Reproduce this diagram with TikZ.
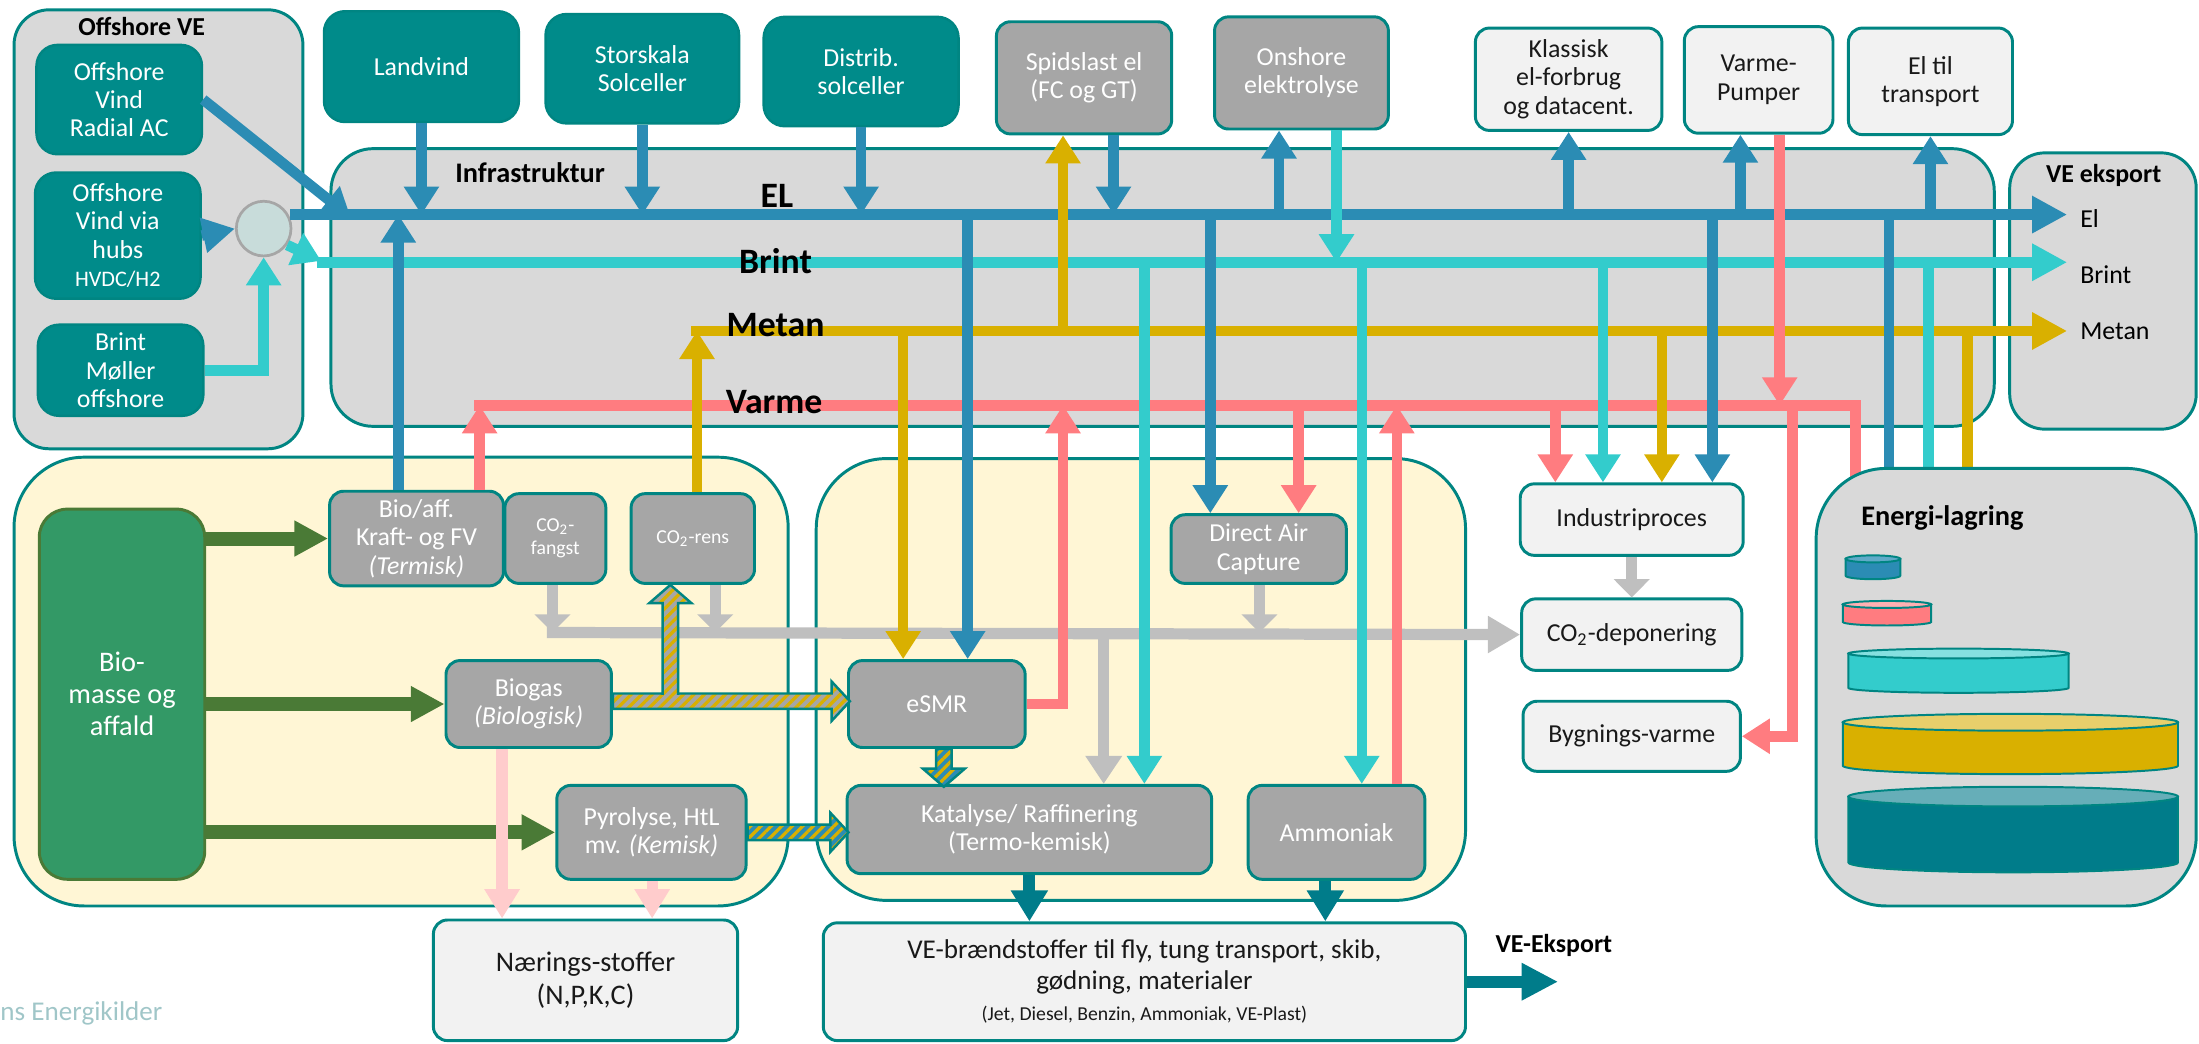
\documentclass[tikz,border=0pt]{standalone}
\usepackage{fontspec}
\setmainfont{Carlito}
\usetikzlibrary{arrows.meta,patterns.meta}

\definecolor{veteal}{RGB}{0,139,138}
\definecolor{rim}{RGB}{0,133,130}
\definecolor{procgray}{RGB}{166,166,166}
\definecolor{lightbox}{RGB}{242,242,242}
\definecolor{infragray}{RGB}{217,217,217}
\definecolor{cream}{RGB}{255,246,213}
\definecolor{elblue}{RGB}{43,140,180}
\definecolor{elbluelight}{RGB}{96,170,200}
\definecolor{brintcyan}{RGB}{51,204,204}
\definecolor{brintlight}{RGB}{133,224,224}
\definecolor{metangold}{RGB}{217,176,0}
\definecolor{metanlight}{RGB}{232,207,107}
\definecolor{varmepink}{RGB}{255,124,128}
\definecolor{varmelight}{RGB}{255,176,178}
\definecolor{co2gray}{RGB}{191,191,191}
\definecolor{biogreen}{RGB}{74,122,54}
\definecolor{biofill}{RGB}{51,153,102}
\definecolor{palepink}{RGB}{255,204,204}
\definecolor{darkteal}{RGB}{0,124,138}
\definecolor{teallight}{RGB}{102,174,184}
\definecolor{hubfill}{RGB}{200,220,218}
\definecolor{hubrim}{RGB}{166,166,166}
\definecolor{faded}{RGB}{160,198,200}

\tikzset{
  boxfont/.style={font=\fontsize{10.5}{11.5}\selectfont},
  smallfont/.style={font=\fontsize{8}{9.5}\selectfont},
  titlefont/.style={font=\bfseries\fontsize{10.5}{12}\selectfont},
  linefont/.style={font=\bfseries\fontsize{14.5}{16}\selectfont},
  srcbox/.style={draw=rim, line width=1pt, fill=veteal, text=white, rounded corners=0.3cm, align=center, boxfont},
  procbox/.style={draw=rim, line width=1.2pt, fill=procgray, text=white, rounded corners=0.2cm, align=center, boxfont},
  endbox/.style={draw=rim, line width=1.2pt, fill=lightbox, text=black!90, rounded corners=0.2cm, align=center, boxfont},
  panel/.style={draw=rim, line width=1.2pt, fill=infragray},
  bus/.style={line width=0.15cm},
  flow/.style={line width=0.15cm, -{Triangle[length=0.4cm,width=0.48cm]}},
  exportflow/.style={line width=0.15cm, -{Triangle[length=0.5cm,width=0.5cm]}},
  co2flow/.style={co2gray, line width=0.16cm, -{Triangle[length=0.26cm,width=0.5cm]}},
  hatchgold/.style={preaction={fill=procgray}, pattern={Lines[angle=45,distance=3pt,line width=1.3pt]}, pattern color=metangold},
  hatchblue/.style={preaction={fill=elblue}, pattern={Lines[angle=45,distance=3pt,line width=1.3pt]}, pattern color=metangold},
  tank/.style={draw=rim, line width=0.8pt},
}

\begin{document}
\begin{tikzpicture}[x=0.02cm,y=-0.02cm]
\useasboundingbox (0,0) rectangle (1568,744);

% panels
\draw[panel, rounded corners=0.6cm] (236,106) rectangle (1422,304);
\draw[panel, rounded corners=0.5cm] (1433,109) rectangle (1566,306);
\draw[panel, rounded corners=0.5cm] (10,7) rectangle (216,320);
\draw[panel, fill=cream, rounded corners=1cm] (10,326) rectangle (562,646);
\draw[panel, fill=cream, rounded corners=1cm] (582,327) rectangle (1045,642);

\node[titlefont, anchor=base] (offtitle) at (101,25) {Offshore VE};
\node[titlefont, font=\bfseries\fontsize{11.5}{13}\selectfont, anchor=base] (infratitle) at (378,130) {Infrastruktur};
\node[titlefont, anchor=base] (exptitle) at (1500,130) {VE eksport};

% offshore
\node[srcbox, minimum width=2.36cm, minimum height=1.56cm] (radial) at (85,71) {Offshore\\Vind\\Radial AC};
\node[srcbox, minimum width=2.36cm, minimum height=1.80cm] (hubs) at (84,168) {Offshore\\Vind via\\hubs\\{\fontsize{9}{11}\selectfont HVDC/H2}};
\node[srcbox, minimum width=2.36cm, minimum height=1.28cm] (moller) at (86,264) {Brint\\Møller\\offshore};
\node[circle, draw=hubrim, fill=hubfill, line width=1.1pt, minimum size=0.78cm, inner sep=0pt] (hub) at (188,163) {};

% top row
\node[srcbox, minimum width=2.78cm, minimum height=1.58cm] (landvind) at (300.5,47.5) {Landvind};
\node[srcbox, minimum width=2.76cm, minimum height=1.56cm] (storskala) at (458,49) {Storskala\\Solceller};
\node[srcbox, minimum width=2.78cm, minimum height=1.56cm] (distrib) at (614,51) {Distrib.\\solceller};
\node[procbox, minimum width=2.50cm, minimum height=1.60cm] (spids) at (773,55.5) {Spidslast el\\(FC og GT)};
\node[procbox, minimum width=2.48cm, minimum height=1.60cm] (onshore) at (928,52) {Onshore\\elektrolyse};
\node[endbox, minimum width=2.66cm, minimum height=1.46cm] (klassisk) at (1118.5,56.5) {Klassisk\\el-forbrug\\og datacent.};
\node[endbox, minimum width=2.12cm, minimum height=1.52cm] (vp) at (1254,57) {Varme-\\Pumper};
\node[endbox, minimum width=2.34cm, minimum height=1.52cm] (eltrans) at (1376.5,58) {El til\\transport};

% bio side
\node[draw=biogreen, line width=1.2pt, fill=biofill, text=white, rounded corners=0.4cm, align=center,
      font=\fontsize{11.5}{13}\selectfont, minimum width=2.36cm, minimum height=5.28cm] (biomasse) at (87,495) {Bio-\\masse og\\affald};
\node[procbox, minimum width=2.48cm, minimum height=1.28cm] (bioaff) at (297,384) {Bio/aff.\\Kraft- og FV\\\textit{(Termisk)}};
\node[procbox, smallfont, minimum width=1.44cm, minimum height=1.28cm] (co2fangst) at (396,384) {CO\textsubscript{2}-\\fangst};
\node[procbox, smallfont, minimum width=1.76cm, minimum height=1.28cm] (co2rens) at (494,384) {CO\textsubscript{2}-rens};
\node[procbox, minimum width=2.36cm, minimum height=1.24cm] (biogas) at (377,502) {Biogas\\\textit{(Biologisk)}};
\node[procbox, minimum width=2.70cm, minimum height=1.34cm] (pyrolyse) at (464.5,593.5) {Pyrolyse, HtL\\mv. \textit{(Kemisk)}};
\node[endbox, font=\fontsize{11.5}{13.5}\selectfont, minimum width=4.34cm, minimum height=1.72cm] (naering) at (417.5,699) {Nærings-stoffer\\(N,P,K,C)};

% conversion side
\node[procbox, minimum width=2.52cm, minimum height=1.24cm] (esmr) at (668,502) {eSMR};
\node[procbox, minimum width=5.20cm, minimum height=1.26cm] (katalyse) at (734,591.5) {Katalyse/ Raffinering\\(Termo-kemisk)};
\node[procbox, minimum width=2.52cm, minimum height=1.34cm] (ammoniak) at (953,593.5) {Ammoniak};
\node[procbox, minimum width=2.50cm, minimum height=0.98cm] (dac) at (897.5,391.5) {Direct Air\\Capture};
\node[endbox, font=\fontsize{11}{12.5}\selectfont, minimum width=9.16cm, minimum height=1.68cm] (brandstof) at (816,700)
  {VE-brændstoffer til fly, tung transport, skib,\\gødning, materialer\\{\fontsize{8}{9.5}\selectfont (Jet, Diesel, Benzin, Ammoniak, VE-Plast)}};

% end uses
\node[endbox, minimum width=3.18cm, minimum height=1.02cm] (industri) at (1163.5,370.5) {Industriproces};
\node[endbox, minimum width=3.14cm, minimum height=1.02cm] (co2dep) at (1163.5,452.5) {CO\textsubscript{2}-deponering};
\node[endbox, minimum width=3.10cm, minimum height=1.00cm] (bygning) at (1163.5,525) {Bygnings-varme};

% export labels
\node[boxfont, anchor=base west, inner xsep=0.18cm] (elexp) at (1474,162) {El};
\node[boxfont, anchor=base west, inner xsep=0.18cm] (brintexp) at (1474,202) {Brint};
\node[boxfont, anchor=base west, inner xsep=0.18cm] (metanexp) at (1474,242) {Metan};

\coordinate (elbus) at (207,153);
\coordinate (brintbus) at (226,187);
\coordinate (metanbus) at (493,236);
\coordinate (varmebus) at (338,289);
\coordinate (co2bus) at (390,451);
\coordinate (radialin) at (250,155);
\coordinate (hubout) at (229,186);
\coordinate (lagerpink) at (1323,350);
\coordinate (lagerblue) at (1347,350);
\coordinate (lagercyan) at (1375,350);
\coordinate (lagergold) at (1403,350);
\coordinate (eksportud) at (1111,700);

% busses
\draw[exportflow, elblue] (elbus) -- (elexp.west |- elbus);
\draw[exportflow, brintcyan] (brintbus) -- (brintexp.west |- brintbus);
\draw[exportflow, metangold] (metanbus) -- (metanexp.west |- metanbus);
\draw[bus, varmepink] (varmebus) -| (lagerpink);
\draw[co2gray, line width=0.16cm, -{Triangle[length=0.46cm,width=0.5cm]}] (co2bus) -- (co2dep.west);

% el
\draw[flow, elblue] (radial.east) -- (radialin);
\draw[elblue, line width=0.15cm, -{Triangle[length=0.46cm,width=0.48cm]}] (hubs.east) -- (hub.west);
\draw[flow, elblue] (landvind.south) -- (landvind.south |- elbus);
\draw[flow, elblue] (storskala.south) -- (storskala.south |- elbus);
\draw[flow, elblue] (distrib.south) -- (distrib.south |- elbus);
\draw[flow, elblue] (bioaff.north -| 284,0) -- (284,0 |- elbus);
\draw[flow, elblue] (690,0 |- elbus) -- (esmr.north -| 690,0);
\draw[flow, elblue] (spids.south -| 794,0) -- (794,0 |- elbus);
\draw[flow, elblue] (863,0 |- elbus) -- (dac.north -| 863,0);
\draw[flow, elblue] (912,0 |- elbus) -- (onshore.south -| 912,0);
\draw[flow, elblue] (klassisk.south |- elbus) -- (klassisk.south);
\draw[flow, elblue] (1221,0 |- elbus) -- (industri.north -| 1221,0);
\draw[flow, elblue] (1241,0 |- elbus) -- (vp.south -| 1241,0);
\draw[flow, elblue] (eltrans.south |- elbus) -- (eltrans.south);
\draw[bus, elblue] (1347,0 |- elbus) -- (lagerblue);

% brint
\draw[flow, brintcyan] (hub.-35) -- (hubout);
\draw[flow, brintcyan] (moller.east) -| (hub.south);
\draw[flow, brintcyan] (onshore.south -| 953,0) -- (953,0 |- brintbus);
\draw[flow, brintcyan] (816,0 |- brintbus) -- (katalyse.north -| 816,0);
\draw[flow, brintcyan] (971,0 |- brintbus) -- (ammoniak.north -| 971,0);
\draw[flow, brintcyan] (1143,0 |- brintbus) -- (industri.north -| 1143,0);
\draw[bus, brintcyan] (1375,0 |- brintbus) -- (lagercyan);

% metan
\draw[flow, metangold] (co2rens.north -| 497,0) -- (497,0 |- metanbus);
\draw[flow, metangold] (758,0 |- metanbus) -- (spids.south -| 758,0);
\draw[flow, metangold] (644,0 |- metanbus) -- (esmr.north -| 644,0);
\draw[flow, metangold] (1185,0 |- metanbus) -- (industri.north -| 1185,0);
\draw[bus, metangold] (1403,0 |- metanbus) -- (lagergold);

% varme
\draw[flow, varmepink] (bioaff.north -| 342,0) -- (342,0 |- varmebus);
\draw[flow, varmepink] (esmr.east) -| (758,0 |- varmebus);
\draw[flow, varmepink] (926,0 |- varmebus) -- (dac.north -| 926,0);
\draw[flow, varmepink] (ammoniak.north -| 996,0) -- (996,0 |- varmebus);
\draw[flow, varmepink] (1109,0 |- varmebus) -- (industri.north -| 1109,0);
\draw[flow, varmepink] (vp.south -| 1269,0) -- (1269,0 |- varmebus);
\draw[flow, varmepink] (1278,0 |- varmebus) |- (bygning.east);

% co2
\draw[co2flow] (co2fangst.south -| 394,0) -- (394,0 |- co2bus);
\draw[co2flow] (co2rens.south -| 510,0) -- (510,0 |- co2bus);
\draw[co2flow] (dac.south -| 898,0) -- (898,0 |- co2bus);
\draw[co2flow] (industri.south) -- (co2dep.north);
\draw[co2flow, -{Triangle[length=0.4cm,width=0.5cm]}] (787,0 |- co2bus) -- (katalyse.north -| 787,0);

% biomass
\draw[biogreen, line width=0.2cm, -{Triangle[length=0.48cm,width=0.48cm]}] (biomasse.east |- bioaff.west) -- (bioaff.west);
\draw[biogreen, line width=0.2cm, -{Triangle[length=0.48cm,width=0.48cm]}] (biomasse.east |- biogas.west) -- (biogas.west);
\draw[biogreen, line width=0.2cm, -{Triangle[length=0.48cm,width=0.48cm]}] (biomasse.east |- pyrolyse.west) -- (pyrolyse.west);
\draw[palepink, line width=0.16cm, -{Triangle[length=0.42cm,width=0.48cm]}] (biogas.south -| 358,0) -- (naering.north -| 358,0);
\draw[palepink, line width=0.16cm, -{Triangle[length=0.42cm,width=0.48cm]}] (pyrolyse.south -| 465,0) -- (naering.north -| 465,0);

% fuels
\draw[darkteal, line width=0.17cm, -{Triangle[length=0.44cm,width=0.5cm]}] (katalyse.south -| 734,0) -- (brandstof.north -| 734,0);
\draw[darkteal, line width=0.17cm, -{Triangle[length=0.44cm,width=0.5cm]}] (ammoniak.south -| 945,0) -- (brandstof.north -| 945,0);
\draw[darkteal, line width=0.17cm, -{Triangle[length=0.52cm,width=0.5cm]}] (brandstof.east) -- (eksportud);
\node[titlefont, anchor=base] (ekslabel) at (1108,679) {VE-Eksport};

% hatched gas arrows
\path[hatchgold, draw=rim, line width=1pt] (biogas.east) ++(0,-7.5) -- ++(156,0) -- ++(0,-8.5) -- ++(13,14) -- ++(-13,14) -- ++(0,-8.5) -- ++(-156,0) -- cycle;
\path[hatchgold] (co2rens.south) ++(-21.5,80) -- ++(0,-67) -- ++(-9.5,0) -- ++(15,-13) -- ++(15,13) -- ++(-9.5,0) -- ++(0,67) -- cycle;
\draw[rim, line width=1pt] (co2rens.south) ++(-21.5,78.5) -- ++(0,-65.5) -- ++(-9.5,0) -- ++(15,-13) -- ++(15,13) -- ++(-9.5,0) -- ++(0,65.5);
\path[hatchblue, draw=rim, line width=1pt] (esmr.south) ++(-0.5,0) -- ++(0,14) -- ++(-9.5,0) -- ++(15,13) -- ++(15,-13) -- ++(-9.5,0) -- ++(0,-14) -- cycle;
\path[hatchblue, draw=rim, line width=1pt] (pyrolyse.east) ++(0,-5.5) -- ++(59,0) -- ++(0,-8.5) -- ++(13,14) -- ++(-13,14) -- ++(0,-8.5) -- ++(-59,0) -- cycle;

% line labels
\node[linefont, anchor=base] (ellabel) at (554,148) {EL};
\node[linefont, anchor=base] (brintlabel) at (553,195) {Brint};
\node[linefont, anchor=base] (metanlabel) at (553,240) {Metan};
\node[linefont, anchor=base] (varmelabel) at (552,295) {Varme};

% storage
\draw[panel, rounded corners=1cm] (1295,334) rectangle (1566,646);
\node[titlefont, font=\bfseries\fontsize{11.5}{13}\selectfont, anchor=base] (lagertitle) at (1385,375) {Energi-lagring};
\filldraw[tank, fill=elblue] (1316,398.5) -- (1316,410.5) arc[start angle=180,end angle=0,x radius=19.5,y radius=2.5] -- (1355,398.5) -- cycle;
\filldraw[tank, fill=elbluelight] (1335.5,398.5) ellipse[x radius=19.5,y radius=2.5];
\filldraw[tank, fill=varmepink] (1314,431) -- (1314,443.5) arc[start angle=180,end angle=0,x radius=31.5,y radius=2.5] -- (1377,431) -- cycle;
\filldraw[tank, fill=varmelight] (1345.5,431) ellipse[x radius=31.5,y radius=2.5];
\filldraw[tank, fill=brintcyan] (1318,466) -- (1318,490.5) arc[start angle=180,end angle=0,x radius=78.5,y radius=3.5] -- (1475,466) -- cycle;
\filldraw[tank, fill=brintlight] (1396.5,466) ellipse[x radius=78.5,y radius=3.5];
\filldraw[tank, fill=metangold] (1314,515) -- (1314,546) arc[start angle=180,end angle=0,x radius=119.5,y radius=6] -- (1553,515) -- cycle;
\filldraw[tank, fill=metanlight] (1433.5,515) ellipse[x radius=119.5,y radius=6];
\filldraw[tank, fill=darkteal] (1318,568) -- (1318,615) arc[start angle=180,end angle=0,x radius=117.5,y radius=7] -- (1553,568) -- cycle;
\filldraw[tank, fill=teallight] (1435.5,568) ellipse[x radius=117.5,y radius=7];

\node[anchor=base west, inner sep=0pt, text=faded, font=\fontsize{11}{13}\selectfont] (kilde) at (0,728) {ns Energikilder};
\end{tikzpicture}
\end{document}
